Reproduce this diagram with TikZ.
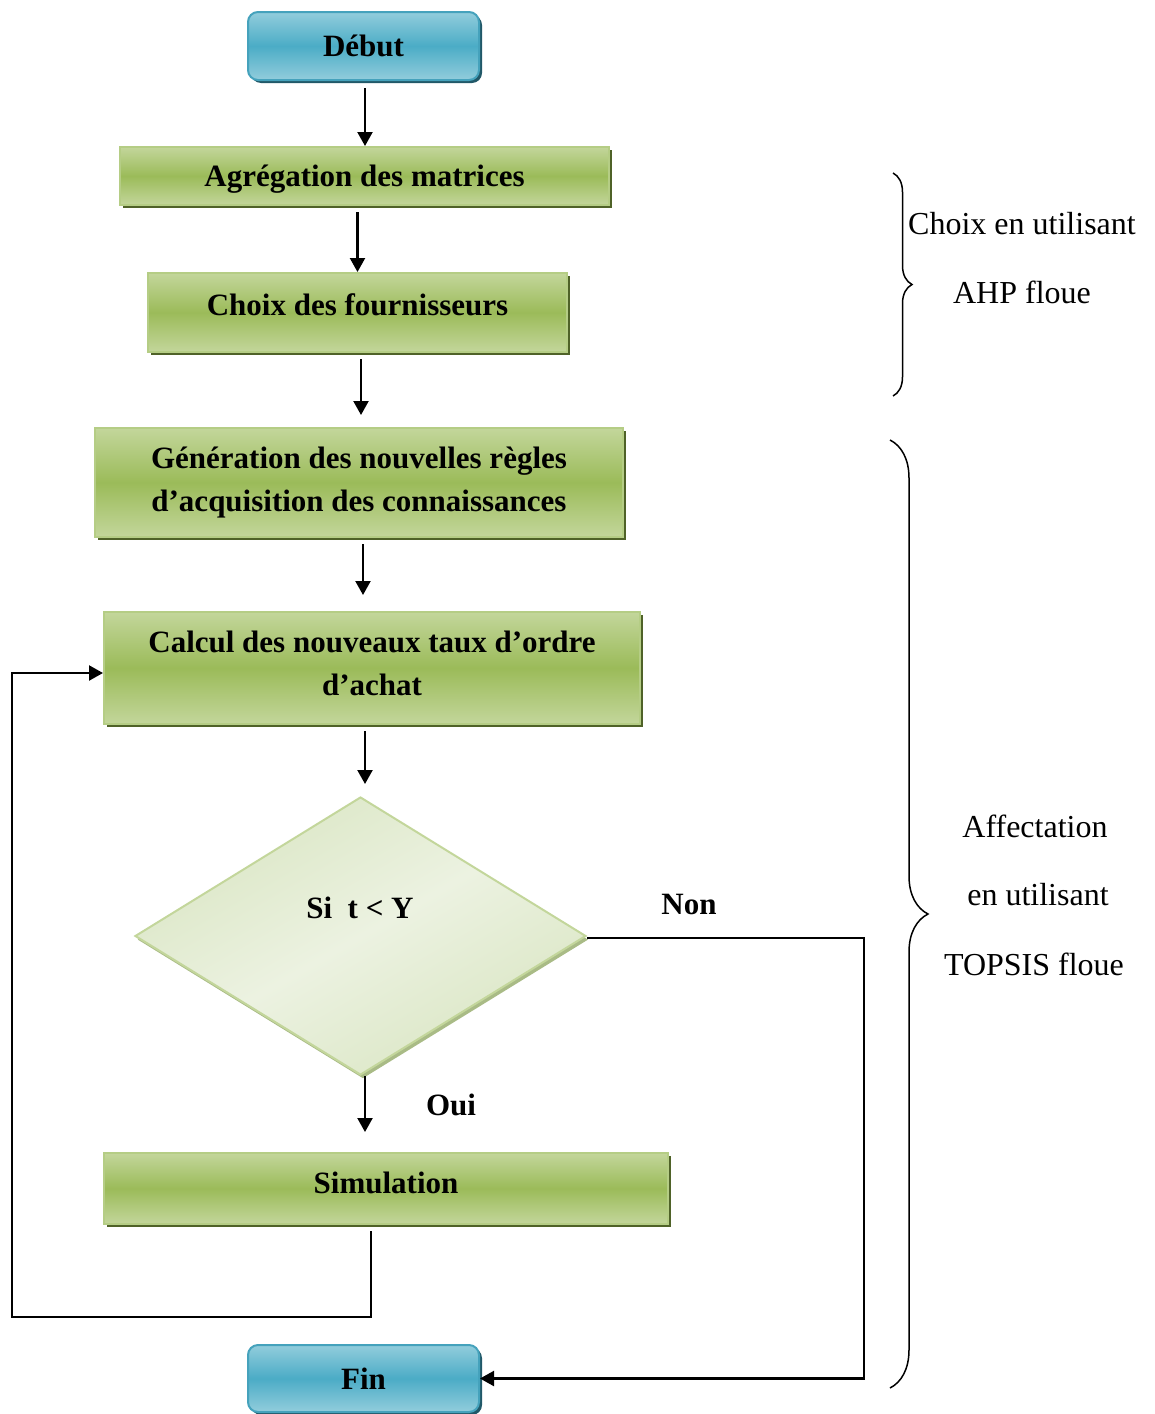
\documentclass[tikz,border=0pt]{standalone}
\usepackage{fontspec}
\setmainfont{Liberation Serif}
\usetikzlibrary{arrows.meta,shapes.geometric,shadows,decorations.pathreplacing,calc}
\definecolor{gLight}{HTML}{C3D69B}
\definecolor{gMid}{HTML}{9BBB59}
\definecolor{gBorder}{HTML}{B5CD85}
\definecolor{gShadow}{HTML}{4F6228}
\definecolor{bLight}{HTML}{92CDDC}
\definecolor{bMid}{HTML}{4BACC6}
\definecolor{bBorder}{HTML}{45A2BC}
\definecolor{bShadow}{HTML}{215868}
\definecolor{dLight}{HTML}{ECF2E1}
\definecolor{dDark}{HTML}{DAE6C4}
\definecolor{dBorder}{HTML}{C3D69B}
\definecolor{dShadow}{HTML}{A9BB86}
\begin{document}
\begin{tikzpicture}[x=0.5pt,y=-0.5pt,
  boldtxt/.style={font=\fontsize{15.5}{21.5}\selectfont\bfseries},
  sidetxt/.style={font=\fontsize{16}{19}\selectfont},
  greenbox/.style={rectangle, draw=gBorder, line width=1pt,
    top color=gLight, bottom color=gLight, middle color=gMid,
    drop shadow={shadow xshift=1.5pt, shadow yshift=-1.5pt, fill=gShadow, opacity=1},
    boldtxt, align=center, inner sep=0pt},
  termbox/.style={rectangle, rounded corners=5pt, draw=bBorder, line width=1pt,
    top color=bLight, bottom color=bLight, middle color=bMid,
    drop shadow={shadow xshift=1.5pt, shadow yshift=-1.5pt, fill=bShadow, opacity=1},
    boldtxt, align=center, inner sep=0pt,
    minimum width=115.5pt, minimum height=34pt},
  decbox/.style={diamond, draw=dBorder, line width=1pt, inner sep=0pt,
    top color=dDark, bottom color=dDark, middle color=dLight, shading angle=30,
    drop shadow={shadow xshift=1.2pt, shadow yshift=-1.8pt, fill=dShadow, opacity=1},
    minimum width=225.5pt, minimum height=139pt},
  arr/.style={line width=1.1pt, -{Triangle[length=7pt,width=7.5pt]}},
  bracedeco/.style={line width=0.75pt, decorate, decoration={brace, amplitude=9.5pt}}
]
\path[use as bounding box] (0,0) rectangle (1155,1414);

% nodes
\node[termbox] (debut) at (363.5,46) {Début};
\node[greenbox, minimum width=244.5pt, minimum height=29pt, text height=12pt, text depth=1.3pt] (agreg) at (364.5,176) {Agrégation des matrices};
\node[greenbox, minimum width=209.5pt, minimum height=39.5pt, text height=11pt, text depth=8pt] (choix) at (357.5,312.5) {Choix des fournisseurs};
\node[greenbox, minimum width=264pt, minimum height=54.5pt] (gen) at (359,482.5) {Génération des nouvelles règles\\d’acquisition des connaissances};
\node[greenbox, minimum width=268pt, minimum height=56pt, text depth=5pt] (calc) at (372,668) {Calcul des nouveaux taux d’ordre\\d’achat};
\node[decbox] (dec) at (360.5,936) {};
\node[boldtxt] (dectxt) at (360,908) {Si~~t < Y};
\node[greenbox, minimum width=282pt, minimum height=35.5pt, text height=11pt, text depth=6pt] (sim) at (386,1188.5) {Simulation};
\node[termbox, minimum height=33.5pt] (fin) at (363.5,1378.5) {Fin};

\node[boldtxt] (non) at (689,904) {Non};
\node[boldtxt] (oui) at (451,1105) {Oui};

% connectors
\draw[arr, shorten <=3.5pt] ($(debut.south)+(1.5,0)$) -- ($(debut.south |- agreg.north)+(1.5,0)$);
\draw[arr, shorten <=3pt] (agreg.south -| choix.north) -- (choix.north);
\draw[arr, shorten <=3pt, shorten >=6pt] ($(choix.south -| gen.north)+(2,0)$) -- ($(gen.north)+(2,0)$);
\draw[arr, shorten <=3pt, shorten >=8pt] ($(gen.south)+(4,0)$) -- ($(gen.south |- calc.north)+(4,0)$);
\draw[arr, shorten <=3pt, shorten >=6pt] ($(calc.south -| dec.north)+(4.5,0)$) -- ($(dec.north)+(4.5,0)$);
\draw[arr, shorten >=10pt] ($(dec.south)+(4.5,0)$) -- ($(dec.south |- sim.north)+(4.5,0)$);

\coordinate (rline) at (864,939);
\draw[arr] ($(dec.east)+(0,2)$) -- ($(dec.east -| rline)+(0,2)$) |- (fin.east);

\coordinate (b1) at (371,1317);
\coordinate (b2) at (12,1317);
\draw[arr, shorten <=3pt] (sim.south -| b1) -- (b1) -- (b2) |- ([yshift=-2.5pt]calc.west);

% braces
\coordinate (br1a) at (893,173);
\coordinate (br1b) at (893,396);
\draw[bracedeco] (br1a) -- (br1b);
\coordinate (br2a) at (890,440);
\coordinate (br2b) at (890,1388);
\draw[bracedeco, decoration={brace, amplitude=19pt}] (br2a) -- (br2b);

\node[sidetxt] (t1) at (1022,224) {Choix en utilisant};
\node[sidetxt] (t2) at (1022,292) {AHP floue};
\node[sidetxt] (t3) at (1035,826) {Affectation};
\node[sidetxt] (t4) at (1038,895) {en utilisant};
\node[sidetxt] (t5) at (1034,964) {TOPSIS floue};
\end{tikzpicture}
\end{document}
